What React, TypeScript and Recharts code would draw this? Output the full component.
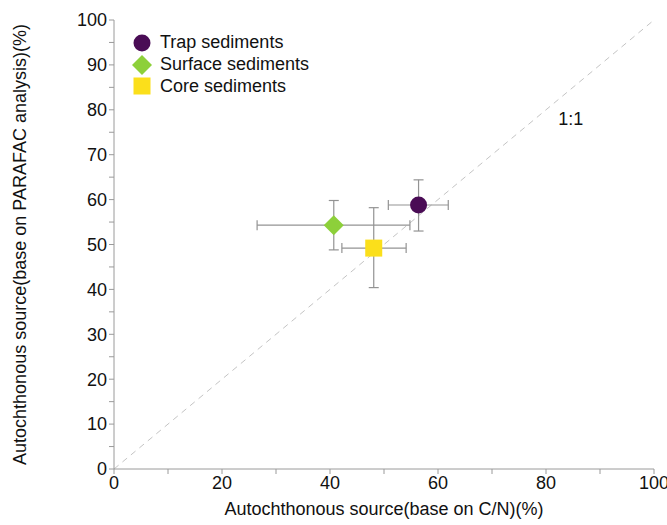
import React from "react";
import {
  ScatterChart,
  Scatter,
  XAxis,
  YAxis,
  ErrorBar,
  ReferenceLine,
  ReferenceDot,
} from "recharts";

// sample groups and their mean positions (%)
const groups = ["Trap sediments", "Surface sediments", "Core sediments"];
const cnValues = [56.4, 40.7, 48.1];
const parafacValues = [58.8, 54.3, 49.2];
// error bar offsets [below, above]
const cnErrors = [
  [5.6, 5.5],
  [14.2, 14.1],
  [5.9, 6.0],
];
const parafacErrors = [
  [5.8, 5.6],
  [5.5, 5.5],
  [8.8, 9.0],
];
const colors = ["#4a0c55", "#8dd03a", "#fbdf1b"];
const shapes = ["circle", "diamond", "square"];

const xTicks = [0, 10, 20, 30, 40, 50, 60, 70, 80, 90, 100];
const yTicks = [0, 5, 10, 15, 20, 25, 30, 35, 40, 45, 50, 55, 60, 65, 70, 75, 80, 85, 90, 95, 100];

const font = "Liberation Sans, Arial, sans-serif";
const axisColor = "#9a9a9a";
const fs = 18;

function Marker({ cx, cy, kind, color }: any) {
  if (kind === "circle") return <circle cx={cx} cy={cy} r={8.5} fill={color} />;
  if (kind === "diamond") {
    const r = 10;
    return (
      <polygon
        points={`${cx},${cy - r} ${cx + r},${cy} ${cx},${cy + r} ${cx - r},${cy}`}
        fill={color}
      />
    );
  }
  return <rect x={cx - 8.5} y={cy - 8.5} width={17} height={17} fill={color} />;
}

function LegendBox() {
  return (
    <div
      style={{
        position: "absolute",
        left: 131,
        top: 32,
        fontFamily: font,
        fontSize: fs,
        color: "#111",
      }}
    >
      {groups.map((g, i) => (
        <div key={g} style={{ display: "flex", alignItems: "center", height: 21.8 }}>
          <svg width={22} height={20} style={{ marginRight: 7 }}>
            <Marker cx={11} cy={10} kind={shapes[i]} color={colors[i]} />
          </svg>
          <span>{g}</span>
        </div>
      ))}
    </div>
  );
}

export default function App() {
  const series = groups.map((g, i) => [
    {
      x: cnValues[i],
      y: parafacValues[i],
      xErr: cnErrors[i],
      yErr: parafacErrors[i],
    },
  ]);

  return (
    <div style={{ position: "absolute", left: 0, top: 0, background: "#fff" }}>
      <ScatterChart
        width={667}
        height={525}
        margin={{ top: 20, right: 13, bottom: 0, left: 0 }}
      >
        <XAxis
          type="number"
          dataKey="x"
          domain={[0, 100]}
          ticks={xTicks}
          tickFormatter={(v) => (v % 20 === 0 ? String(v) : "")}
          height={56}
          stroke={axisColor}
          tickSize={5}
          interval={0}
          tick={{ fill: "#111", fontSize: fs, fontFamily: font }}
          label={{
            value: "Autochthonous source(base on C/N)(%)",
            position: "insideBottom",
            offset: 10,
            fill: "#111",
            fontSize: fs,
            fontFamily: font,
          }}
        />
        <YAxis
          type="number"
          dataKey="y"
          domain={[0, 100]}
          ticks={yTicks}
          tickFormatter={(v) => (v % 10 === 0 ? String(v) : "")}
          width={114}
          stroke={axisColor}
          tickSize={5}
          interval={0}
          tick={{ fill: "#111", fontSize: fs, fontFamily: font }}
          label={{
            value: "Autochthonous source(base on PARAFAC analysis)(%)",
            angle: -90,
            position: "insideLeft",
            offset: 20,
            style: { textAnchor: "middle" },
            fill: "#111",
            fontSize: fs,
            fontFamily: font,
          }}
        />
        <XAxis
          xAxisId="top"
          orientation="top"
          type="number"
          domain={[0, 100]}
          height={0}
          tick={false}
          tickLine={false}
          stroke={axisColor}
        />
        <YAxis
          yAxisId="right"
          orientation="right"
          type="number"
          domain={[0, 100]}
          width={0}
          tick={false}
          tickLine={false}
          stroke={axisColor}
        />
        <ReferenceLine
          segment={[
            { x: 0, y: 0 },
            { x: 100, y: 100 },
          ]}
          stroke="#c4c4c4"
          strokeDasharray="6 5"
        />
        <ReferenceDot
          x={84.6}
          y={78}
          r={0}
          label={{ value: "1:1", fill: "#111", fontSize: fs, fontFamily: font }}
        />
        {groups.map((g, i) => (
          <Scatter
            key={g}
            name={g}
            data={series[i]}
            isAnimationActive={false}
            shape={(p: any) => <Marker cx={p.cx} cy={p.cy} kind={shapes[i]} color={colors[i]} />}
          >
            <ErrorBar dataKey="xErr" direction="x" width={5} stroke="#939393" strokeWidth={1.2} />
            <ErrorBar dataKey="yErr" direction="y" width={5} stroke="#939393" strokeWidth={1.2} />
          </Scatter>
        ))}
      </ScatterChart>
      <LegendBox />
    </div>
  );
}
